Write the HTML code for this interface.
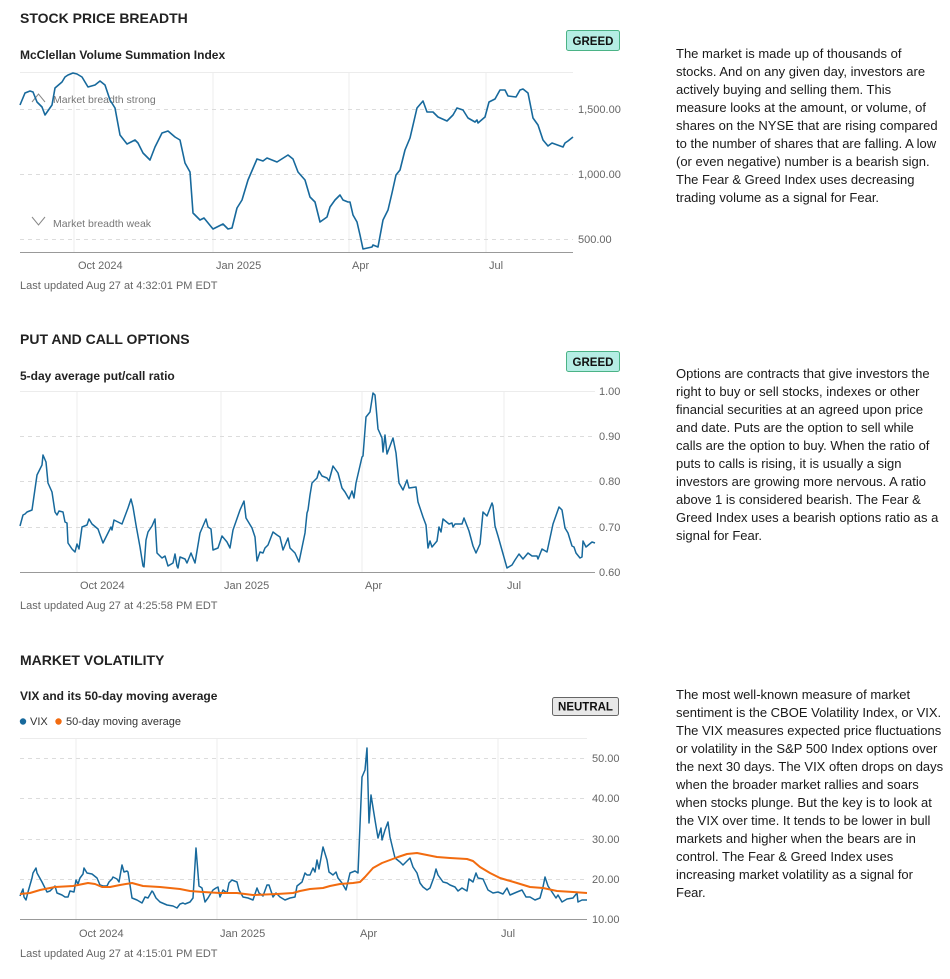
<!DOCTYPE html>
<html><head><meta charset="utf-8">
<style>
html,body{margin:0;padding:0;background:#fff;}
body{width:950px;height:979px;position:relative;overflow:hidden;font-family:"Liberation Sans",Arial,sans-serif;}
.p{position:absolute;left:676px;font-size:13px;line-height:18px;color:#1a1a1a;white-space:nowrap;}
svg{position:absolute;left:0;top:0;}
</style></head><body>
<svg width="950" height="979" viewBox="0 0 950 979" xmlns="http://www.w3.org/2000/svg" font-family="Liberation Sans, Arial, sans-serif">
<!-- ===== CHART 1 ===== -->
<text x="20" y="23" font-size="14" font-weight="bold" fill="#222">STOCK PRICE BREADTH</text>
<text x="20" y="59" font-size="12" font-weight="bold" fill="#222">McClellan Volume Summation Index</text>
<rect x="566.5" y="30.5" width="53" height="20" rx="2" fill="#b5ede4" stroke="#4bb386"/>
<text x="593" y="45" font-size="11.5" font-weight="bold" fill="#111" text-anchor="middle">GREED</text>
<g stroke="#ececec" stroke-width="1">
<line x1="74" y1="72" x2="74" y2="252"/><line x1="213" y1="72" x2="213" y2="252"/>
<line x1="349" y1="72" x2="349" y2="252"/><line x1="486" y1="72" x2="486" y2="252"/>
<line x1="20" y1="72.5" x2="573" y2="72.5"/>
</g>
<g stroke="#dcdcdc" stroke-width="1" stroke-dasharray="4,4">
<line x1="20" y1="109.5" x2="573" y2="109.5"/><line x1="20" y1="174.5" x2="573" y2="174.5"/><line x1="20" y1="239.5" x2="573" y2="239.5"/>
</g>
<line x1="20" y1="252.5" x2="573" y2="252.5" stroke="#999"/>
<g font-size="11" fill="#666">
<text x="578" y="113">1,500.00</text><text x="578" y="178">1,000.00</text><text x="578" y="243">500.00</text>
<text x="78" y="269">Oct 2024</text><text x="216" y="269">Jan 2025</text><text x="352" y="269">Apr</text><text x="489" y="269">Jul</text>
<text x="20" y="289">Last updated Aug 27 at 4:32:01 PM EDT</text>
</g>
<polyline fill="none" stroke="#888" stroke-width="1" points="32,102 38.5,94 45,102"/>
<polyline fill="none" stroke="#888" stroke-width="1" points="32,217 38.5,225 45,217"/>
<g font-size="10.5" fill="#777"><text x="53" y="103">Market breadth strong</text><text x="53" y="227">Market breadth weak</text></g>
<polyline fill="none" stroke="#17699c" stroke-width="1.6" stroke-linejoin="round" points="20,105 25,93 30,91 33,92 37,102 42,107 45,115 52,105 55,88 62,82 65,77 68,75 73,73 77,74 82,77 88,87 95,85 100,81 105,85 110,100 115,108 120,135 127,144 135,140 138,143 143,153 150,160 155,147 162,133 168,131 175,137 180,140 185,163 190,172 193,213 200,220 204,218 213,229 223,224 228,229 232,228 237,208 242,200 248,180 257,159 263,161 267,158 277,162 288,155 293,159 298,172 305,180 310,197 315,202 320,222 327,217 330,207 335,200 340,195 343,200 348,202 350,202 353,215 357,222 360,235 363,249 372,247 373,245 378,247 383,220 388,210 392,193 396,175 400,170 405,150 410,138 417,108 423,101 427,112 433,112 438,117 447,121 453,115 457,108 463,110 468,118 475,122 477,120 478,123 485,117 489,102 495,99 500,90 505,90 508,96 516,97 520,90 523,89 528,93 533,118 538,125 543,140 548,146 552,143 563,147 565,143 568,141 573,137"/>

<!-- ===== CHART 2 ===== -->
<text x="20" y="344" font-size="14" font-weight="bold" fill="#222">PUT AND CALL OPTIONS</text>
<text x="20" y="380" font-size="12" font-weight="bold" fill="#222">5-day average put/call ratio</text>
<rect x="566.5" y="351.5" width="53" height="20" rx="2" fill="#b5ede4" stroke="#4bb386"/>
<text x="593" y="366" font-size="11.5" font-weight="bold" fill="#111" text-anchor="middle">GREED</text>
<g stroke="#ececec" stroke-width="1">
<line x1="77" y1="391" x2="77" y2="572"/><line x1="221" y1="391" x2="221" y2="572"/>
<line x1="362" y1="391" x2="362" y2="572"/><line x1="504" y1="391" x2="504" y2="572"/>
<line x1="20" y1="391.5" x2="595" y2="391.5"/>
</g>
<g stroke="#dcdcdc" stroke-width="1" stroke-dasharray="4,4">
<line x1="20" y1="436.5" x2="595" y2="436.5"/><line x1="20" y1="481.5" x2="595" y2="481.5"/><line x1="20" y1="527.5" x2="595" y2="527.5"/>
</g>
<line x1="20" y1="572.5" x2="595" y2="572.5" stroke="#999"/>
<g font-size="11" fill="#666">
<text x="599" y="395">1.00</text><text x="599" y="440">0.90</text><text x="599" y="485">0.80</text><text x="599" y="531">0.70</text><text x="599" y="576">0.60</text>
<text x="80" y="589">Oct 2024</text><text x="224" y="589">Jan 2025</text><text x="365" y="589">Apr</text><text x="507" y="589">Jul</text>
<text x="20" y="609">Last updated Aug 27 at 4:25:58 PM EDT</text>
</g>
<polyline fill="none" stroke="#17699c" stroke-width="1.5" stroke-linejoin="round" points="20,526 23,515 25,514 27,512 32,510 37,475 42,465 43,455 46,462 48,483 52,492 55,512 57,515 59,511 63,512 65,522 67,523 68,543 72,549 75,552 77,544 79,549 82,527 87,525 89,519 92,524 98,529 103,543 108,533 111,527 112,530 114,520 122,524 128,508 131,499 133,507 136,525 140,547 143,566 144,567 146,540 148,532 152,526 155,519 157,553 162,558 165,556 168,566 173,563 175,554 177,566 178,568 180,557 185,559 187,563 191,553 195,563 200,533 206,519 208,527 211,529 213,550 218,548 222,536 227,542 230,548 233,530 240,510 244,501 246,518 252,528 255,537 257,561 260,552 263,553 265,548 268,545 273,532 277,535 280,537 283,550 288,538 290,548 295,553 299,562 305,533 307,513 308,510 310,495 312,483 317,478 319,471 322,476 327,478 329,481 333,466 338,473 342,488 345,492 349,499 352,491 354,498 356,483 362,457 363,456 366,417 370,412 373,393 375,395 378,429 382,438 383,452 385,435 387,454 393,438 396,453 399,483 403,490 407,480 409,488 416,487 418,502 423,517 426,525 428,548 430,541 432,547 437,541 439,527 441,532 443,519 449,524 452,523 453,527 455,524 462,524 464,518 469,531 473,546 476,553 480,544 483,512 487,516 492,503 493,506 495,526 498,536 507,568 512,565 515,560 517,557 519,554 523,559 528,553 532,556 537,556 538,559 542,549 547,552 550,538 553,524 559,507 562,510 565,528 568,533 572,546 574,547 576,553 580,558 582,557 583,541 586,547 592,542 595,543"/>

<!-- ===== CHART 3 ===== -->
<text x="20" y="665" font-size="14" font-weight="bold" fill="#222">MARKET VOLATILITY</text>
<text x="20" y="700" font-size="12" font-weight="bold" fill="#222">VIX and its 50-day moving average</text>
<rect x="552.5" y="697.5" width="66" height="18" rx="2" fill="#e8e8e8" stroke="#666"/>
<text x="585.5" y="710.5" font-size="11.5" font-weight="bold" fill="#111" text-anchor="middle">NEUTRAL</text>
<circle cx="23" cy="721.5" r="3.2" fill="#17699c"/>
<text x="30" y="725" font-size="11" fill="#333">VIX</text>
<circle cx="58.5" cy="721.5" r="3.2" fill="#f26b0f"/>
<text x="66" y="725" font-size="11" fill="#333">50-day moving average</text>
<g stroke="#ececec" stroke-width="1">
<line x1="76" y1="738" x2="76" y2="919"/><line x1="217" y1="738" x2="217" y2="919"/>
<line x1="357" y1="738" x2="357" y2="919"/><line x1="498" y1="738" x2="498" y2="919"/>
<line x1="20" y1="738.5" x2="587" y2="738.5"/>
</g>
<g stroke="#dcdcdc" stroke-width="1" stroke-dasharray="4,4">
<line x1="20" y1="758.5" x2="587" y2="758.5"/><line x1="20" y1="798.5" x2="587" y2="798.5"/><line x1="20" y1="839.5" x2="587" y2="839.5"/><line x1="20" y1="879.5" x2="587" y2="879.5"/>
</g>
<line x1="20" y1="919.5" x2="587" y2="919.5" stroke="#999"/>
<g font-size="11" fill="#666">
<text x="592" y="762">50.00</text><text x="592" y="802">40.00</text><text x="592" y="843">30.00</text><text x="592" y="883">20.00</text><text x="592" y="923">10.00</text>
<text x="79" y="937">Oct 2024</text><text x="220" y="937">Jan 2025</text><text x="360" y="937">Apr</text><text x="501" y="937">Jul</text>
<text x="20" y="957">Last updated Aug 27 at 4:15:01 PM EDT</text>
</g>
<polyline fill="none" stroke="#17699c" stroke-width="1.5" stroke-linejoin="round" points="20,896 23,889 24,897 26,900 28,892 32,878 33,873 36,868 37,873 42,882 47,892 50,891 55,886 57,893 62,895 65,897 68,897 70,891 74,892 76,880 78,884 80,878 83,874 84,868 87,873 92,874 97,878 100,885 103,886 107,886 109,882 112,879 113,877 117,879 119,882 122,865 124,872 127,871 128,872 132,898 137,900 142,903 145,897 148,898 152,891 153,892 156,898 160,902 167,905 173,906 177,908 180,904 183,903 185,904 190,902 193,898 196,848 199,886 202,888 205,902 208,898 211,893 213,890 216,888 218,887 220,897 223,890 227,893 229,883 232,880 237,882 239,890 243,897 248,898 253,900 257,888 259,893 263,896 267,885 269,885 273,897 276,893 280,897 285,900 290,898 295,897 297,886 302,882 305,873 307,875 310,875 313,868 315,872 317,860 319,869 323,847 327,860 329,872 333,875 336,872 338,878 342,883 346,890 350,873 355,871 358,873 362,777 365,770 367,748 369,823 371,795 375,820 378,838 381,828 382,840 385,830 388,822 390,837 395,858 400,862 403,865 405,863 410,858 413,867 417,873 420,883 423,887 427,890 430,888 434,877 436,869 438,875 443,882 447,883 450,885 455,887 458,891 462,888 467,891 469,879 473,882 476,873 478,878 483,879 488,890 493,893 498,892 503,894 507,888 510,895 517,892 522,890 526,897 530,897 535,900 540,898 543,887 545,877 548,886 552,892 556,898 558,895 562,902 567,899 573,898 577,893 578,902 582,900 587,900"/>
<polyline fill="none" stroke="#f26b0f" stroke-width="2" stroke-linejoin="round" points="20,894 30,893 40,890 55,887 73,886 88,883 95,884 102,887 110,887 120,885 132,883 143,886 160,887 180,889 190,891 203,892 220,893 237,893 253,895 277,894 293,893 300,891 310,889 323,888 330,886 340,884 353,883 360,882 365,877 373,868 382,863 390,860 398,857 407,854 417,853 427,855 437,857 450,858 467,859 473,861 480,867 490,873 500,878 517,883 530,887 543,888 557,891 573,892 587,893"/>
</svg>

<div class="p" style="top:45px;">The market is made up of thousands of<br>stocks. And on any given day, investors are<br>actively buying and selling them. This<br>measure looks at the amount, or volume, of<br>shares on the NYSE that are rising compared<br>to the number of shares that are falling. A low<br>(or even negative) number is a bearish sign.<br>The Fear &amp; Greed Index uses decreasing<br>trading volume as a signal for Fear.</div>

<div class="p" style="top:365px;">Options are contracts that give investors the<br>right to buy or sell stocks, indexes or other<br>financial securities at an agreed upon price<br>and date. Puts are the option to sell while<br>calls are the option to buy. When the ratio of<br>puts to calls is rising, it is usually a sign<br>investors are growing more nervous. A ratio<br>above 1 is considered bearish. The Fear &amp;<br>Greed Index uses a bearish options ratio as a<br>signal for Fear.</div>

<div class="p" style="top:686px;">The most well-known measure of market<br>sentiment is the CBOE Volatility Index, or VIX.<br>The VIX measures expected price fluctuations<br>or volatility in the S&amp;P 500 Index options over<br>the next 30 days. The VIX often drops on days<br>when the broader market rallies and soars<br>when stocks plunge. But the key is to look at<br>the VIX over time. It tends to be lower in bull<br>markets and higher when the bears are in<br>control. The Fear &amp; Greed Index uses<br>increasing market volatility as a signal for<br>Fear.</div>
</body></html>
